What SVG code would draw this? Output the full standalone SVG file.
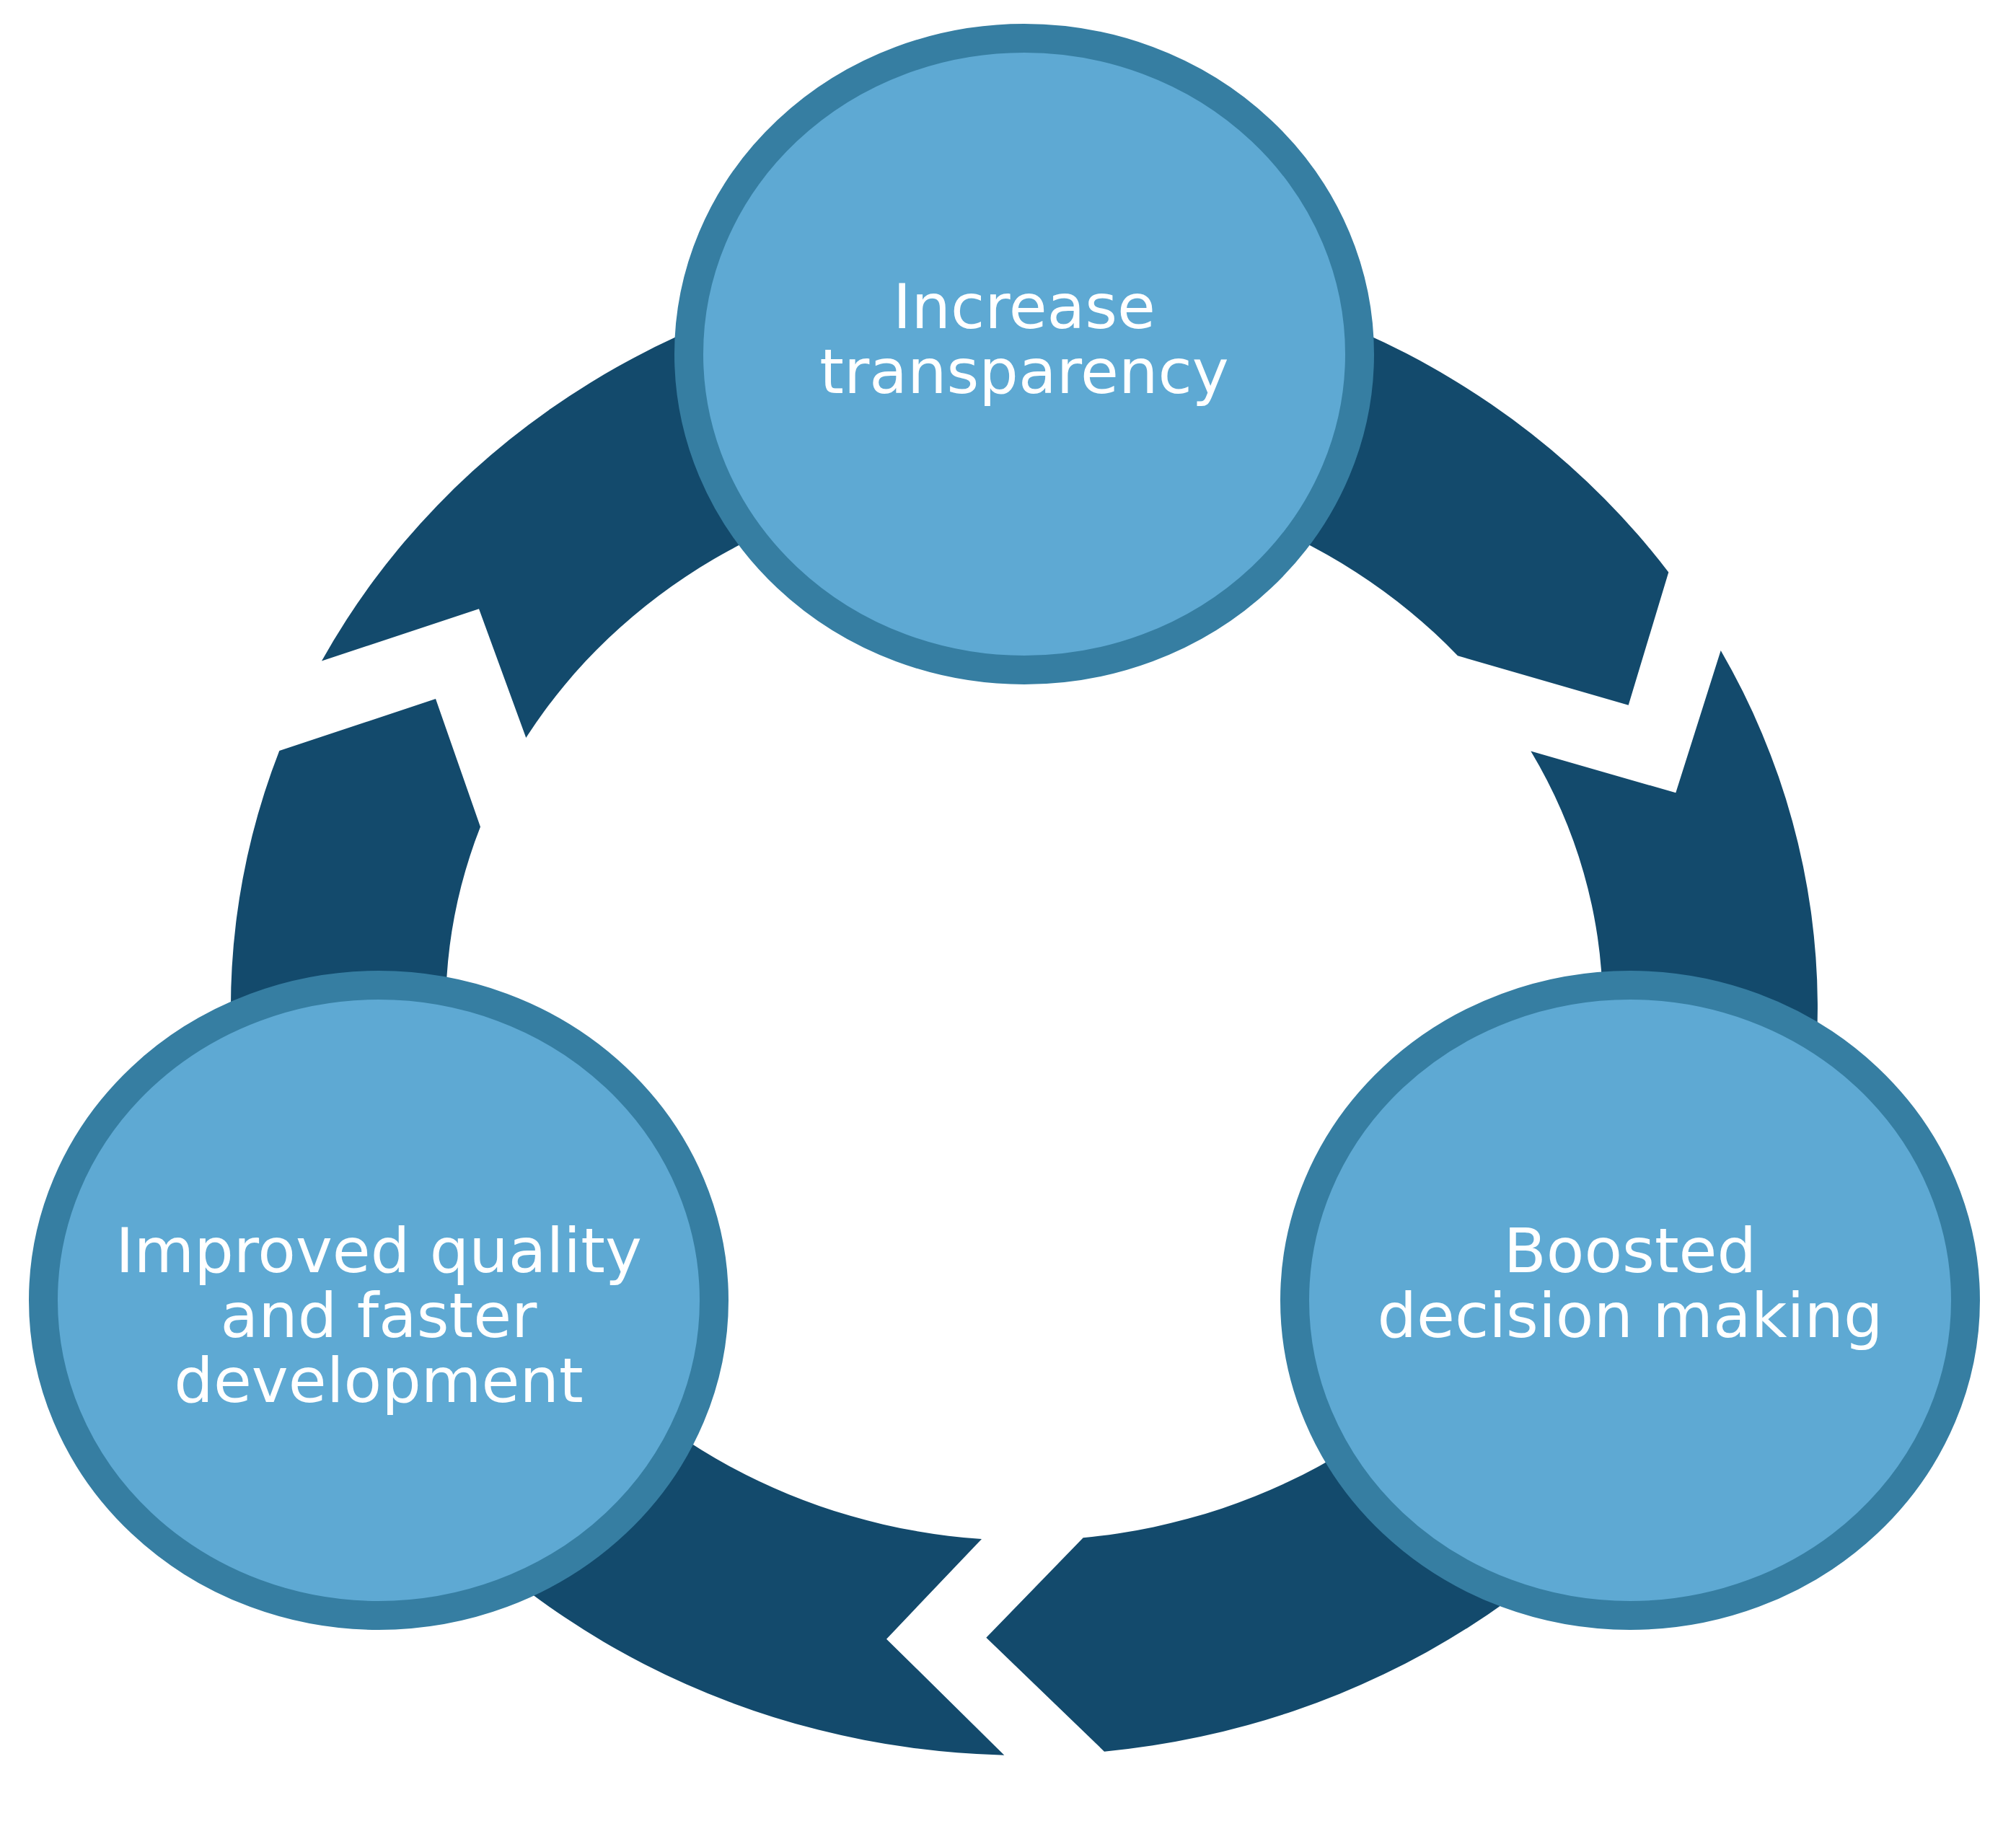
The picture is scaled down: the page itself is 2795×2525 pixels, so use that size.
<svg xmlns="http://www.w3.org/2000/svg" width="2795" height="2525" viewBox="0 0 2795 2525">
  <style>
    .ring { fill: #134A6C; stroke: none; }
    .node { fill: #5EA9D3; stroke: #367EA2; stroke-width: 40; }
    .label { font-family: "DejaVu Sans", "Liberation Sans", sans-serif; font-size: 86px; fill: #FFFFFF; text-anchor: middle; }
  </style>
  <rect x="0" y="0" width="2795" height="2525" fill="#FFFFFF"/>
  <g id="connectors">
    <path id="arrow-top" class="ring" d="M 446,916.5 A 1100 1036 0 0 1 2313.3,793.5 L 2257.7,977.7 L 2021,909.3 A 802 738 0 0 0 729.3,1023 L 664,844.3 Z"/>
    <path id="arrow-right" class="ring" d="M 2385.7,902 A 1100 1036 0 0 1 1531,2428.7 L 1367.3,2270.7 L 1501.7,2132.2 A 802 738 0 0 0 2122.3,1041.6 L 2323.3,1099.3 Z"/>
    <path id="arrow-left" class="ring" d="M 1392.3,2433.7 A 1100 1036 0 0 1 387.3,1041 L 604,969 L 666,1146.5 A 802 738 0 0 0 1361,2134 L 1229,2272.7 Z"/>
  </g>
  <g id="node-transparency">
    <ellipse class="node" cx="1420" cy="491" rx="465" ry="438"/>
    <text class="label" x="1420" y="455">Increase</text>
    <text class="label" x="1420" y="545">transparency</text>
  </g>
  <g id="node-decision">
    <ellipse class="node" cx="2260" cy="1803" rx="465" ry="437"/>
    <text class="label" x="2260" y="1764">Boosted</text>
    <text class="label" x="2260" y="1854">decision making</text>
  </g>
  <g id="node-quality">
    <ellipse class="node" cx="525" cy="1803" rx="465" ry="437"/>
    <text class="label" x="525" y="1764">Improved quality</text>
    <text class="label" x="525" y="1854">and faster</text>
    <text class="label" x="525" y="1944">development</text>
  </g>
</svg>
